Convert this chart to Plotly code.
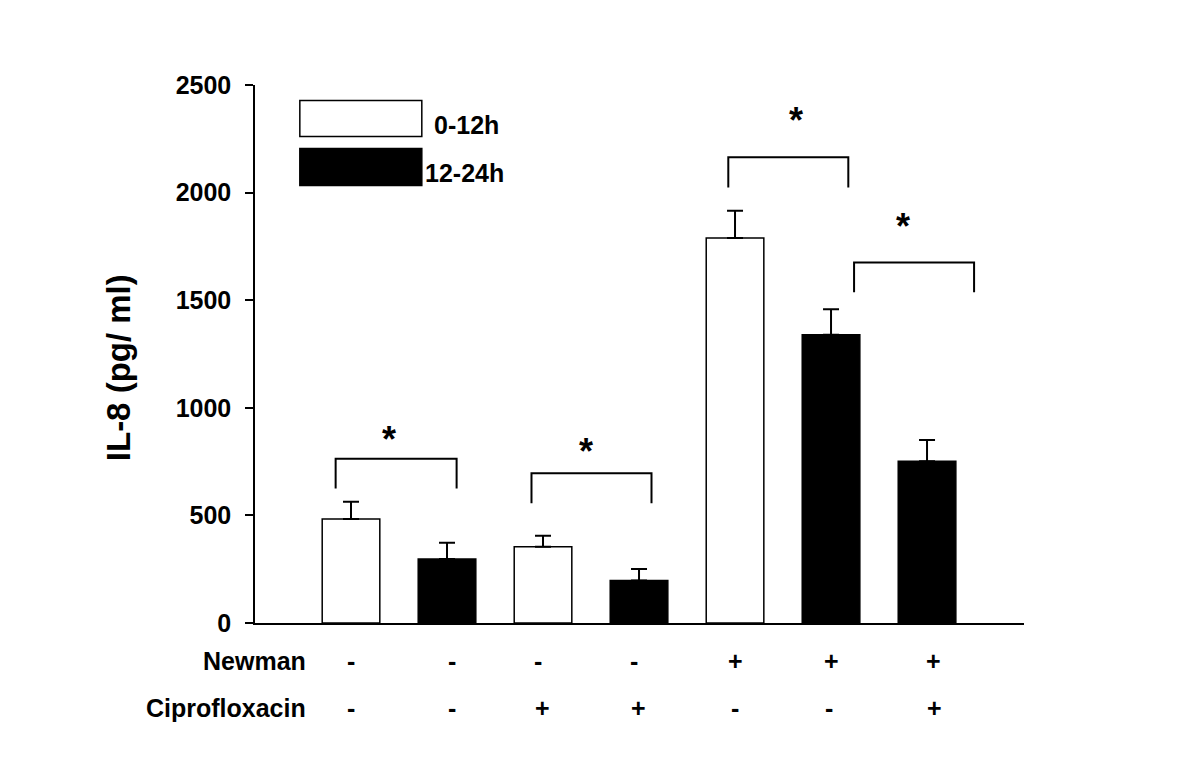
import plotly.graph_objects as go

# ---- data ----
bar_pos = [0, 1, 2, 3, 4, 5, 6]
values = [483, 297, 354, 198, 1789, 1340, 752]
errors = [80, 76, 51, 53, 127, 118, 98]
period = ["0-12h", "12-24h", "0-12h", "12-24h", "0-12h", "12-24h", "12-24h"]

newman_signs = ["-", "-", "-", "-", "+", "+", "+"]
cipro_signs = ["-", "-", "+", "+", "-", "-", "+"]
newman_sign_x = [0, 1.05, 1.95, 2.95, 4.0, 5.0, 6.07]
cipro_sign_x = [0, 1.05, 1.99, 2.99, 4.0, 4.98, 6.08]

# significance brackets: (left x, right x, leg bottom y, top y)
brackets = [
    (-0.16, 1.10, 625, 763),
    (1.88, 3.13, 557, 696),
    (3.93, 5.18, 2024, 2164),
    (5.24, 6.49, 1537, 1675),
]
star_x = [0.40, 2.45, 4.64, 5.75]
star_y = [873, 817, 2358, 1862]

y_ticks = [0, 500, 1000, 1500, 2000, 2500]

FONT = "Liberation Sans"
TXT = 25

fig = go.Figure()

for name, fill in [("0-12h", "white"), ("12-24h", "black")]:
    xs = [x for x, p in zip(bar_pos, period) if p == name]
    ys = [v for v, p in zip(values, period) if p == name]
    es = [e for e, p in zip(errors, period) if p == name]
    fig.add_trace(go.Bar(
        x=xs, y=ys, width=0.6, name=name,
        marker=dict(color=fill, line=dict(color="black", width=1.5)),
        error_y=dict(type="data", symmetric=False, array=es,
                     arrayminus=[0] * len(es), color="black",
                     thickness=2, width=8),
        showlegend=False,
    ))

for (l, r, b, t) in brackets:
    fig.add_trace(go.Scatter(
        x=[l, l, r, r], y=[b, t, t, b], mode="lines",
        line=dict(color="black", width=2), showlegend=False,
        hoverinfo="skip",
    ))

annotations = []
for sx, sy in zip(star_x, star_y):
    annotations.append(dict(
        x=sx, y=sy, xref="x", yref="y", text="<b>*</b>", showarrow=False,
        font=dict(family=FONT, size=36, color="black"),
        xanchor="center", yanchor="bottom", yshift=-27,
    ))

# row labels (paper coordinates, below the plot area)
row_y = {"Newman": -0.0706, "Ciprofloxacin": -0.158}
for label, ry in row_y.items():
    annotations.append(dict(
        x=-0.45, y=ry, xref="x", yref="paper", text="<b>%s</b>" % label,
        showarrow=False, xanchor="right", yanchor="middle",
        font=dict(family=FONT, size=TXT, color="black"),
    ))
for sx, s in zip(newman_sign_x, newman_signs):
    annotations.append(dict(
        x=sx, y=row_y["Newman"], xref="x", yref="paper", text="<b>%s</b>" % s,
        showarrow=False, xanchor="center", yanchor="middle",
        font=dict(family=FONT, size=TXT, color="black"),
    ))
for sx, s in zip(cipro_sign_x, cipro_signs):
    annotations.append(dict(
        x=sx, y=row_y["Ciprofloxacin"], xref="x", yref="paper", text="<b>%s</b>" % s,
        showarrow=False, xanchor="center", yanchor="middle",
        font=dict(family=FONT, size=TXT, color="black"),
    ))

# y title
annotations.append(dict(
    x=0, y=1184, xref="paper", yref="y", text="<b>IL-8 (pg/ ml)</b>",
    showarrow=False, textangle=-90, xanchor="center", yanchor="middle",
    xshift=-137, font=dict(family=FONT, size=33, color="black"),
))

# legend
legend_items = [("0-12h", "white", 2261, 2428, 0.84, 2312),
                ("12-24h", "black", 2033, 2205, 0.75, 2089)]
shapes = []
for name, fill, y0, y1, tx, ty in legend_items:
    shapes.append(dict(type="rect", xref="x", yref="y", x0=-0.533, x1=0.7375,
                       y0=y0, y1=y1, fillcolor=fill,
                       line=dict(color="black", width=1.5)))
    annotations.append(dict(
        x=tx, y=ty, xref="x", yref="y", text="<b>%s</b>" % name,
        showarrow=False, xanchor="left", yanchor="middle",
        font=dict(family=FONT, size=TXT, color="black"),
    ))

fig.update_layout(
    width=1184, height=756,
    margin=dict(l=247, r=168, t=76.5, b=141),
    paper_bgcolor="white", plot_bgcolor="white",
    barmode="overlay",
    shapes=shapes, annotations=annotations,
    font=dict(family=FONT, color="black"),
)
fig.update_xaxes(range=[-1, 7.01], showline=True, linecolor="black", linewidth=1.5,
                 showticklabels=False, ticks="", showgrid=False, zeroline=False)
fig.update_yaxes(range=[0, 2500], tickvals=y_ticks, showline=True, linecolor="black",
                 linewidth=1.5, ticks="outside", ticklen=8, tickwidth=1.5,
                 tickcolor="black", showgrid=False, zeroline=False,
                 ticklabelstandoff=9,
                 tickfont=dict(family=FONT, size=TXT, color="black", weight="bold"))

fig.write_html("out.html")
